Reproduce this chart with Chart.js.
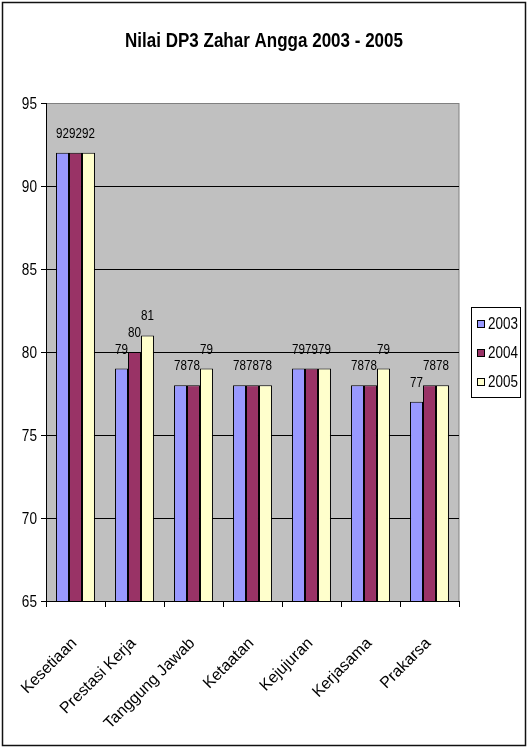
<!DOCTYPE html>
<html>
<head>
<meta charset="utf-8">
<script src="https://cdn.jsdelivr.net/npm/chart.js@4/dist/chart.umd.min.js"></script>
<style>
  html, body { margin: 0; padding: 0; background: #ffffff; }
  #wrap { width: 528px; height: 748px; position: relative; }
</style>
</head>
<body>
<div id="wrap"><canvas id="c" width="528" height="748"></canvas></div>
<script>
// Aspek penilaian DP3
const categories = ['Kesetiaan', 'Prestasi Kerja', 'Tanggung Jawab', 'Ketaatan', 'Kejujuran', 'Kerjasama', 'Prakarsa'];
const seriesNames = ['2003', '2004', '2005'];
const values2003 = [92, 79, 78, 78, 79, 78, 77];
const values2004 = [92, 80, 78, 78, 79, 78, 78];
const values2005 = [92, 81, 79, 78, 79, 79, 78];
const yTicks = [65, 70, 75, 80, 85, 90, 95];
const titleText = 'Nilai DP3 Zahar Angga 2003 - 2005';

const colors = ['#9999FF', '#993366', '#FFFFCC'];
const SANS = '"Liberation Sans", Arial, sans-serif';

// draws horizontally condensed text (narrow face look)
function narrowText(ctx, text, x, y, squeeze, align) {
  ctx.save();
  ctx.translate(x, y);
  ctx.scale(squeeze, 1);
  ctx.textAlign = align;
  ctx.fillText(text, 0, 0);
  ctx.restore();
}

// background of the plot area, outer frame, title
const frame = {
  id: 'frame',
  beforeDraw(chart) {
    const { ctx, chartArea: a } = chart;
    ctx.save();
    ctx.fillStyle = '#ffffff';
    ctx.fillRect(0, 0, chart.width, chart.height);
    ctx.fillStyle = '#C0C0C0';
    ctx.fillRect(a.left, a.top, a.right - a.left, a.bottom - a.top);
    ctx.strokeStyle = '#808080';
    ctx.lineWidth = 1;
    ctx.strokeRect(a.left + 0.5, a.top + 0.5, a.right - a.left - 0.5, a.bottom - a.top);
    ctx.restore();
  },
  afterDraw(chart) {
    const { ctx } = chart;
    ctx.save();
    ctx.strokeStyle = '#111111';
    ctx.lineWidth = 1.5;
    ctx.strokeRect(2.5, 2.5, chart.width - 5, chart.height - 5);
    ctx.fillStyle = '#000000';
    ctx.font = 'bold 21px ' + SANS;
    ctx.textBaseline = 'alphabetic';
    narrowText(ctx, titleText, chart.width / 2, 47, 0.81, 'center');
    ctx.restore();
  }
};

// axis labels: condensed numbers on y, 45-degree category names on x
const axisLabels = {
  id: 'axisLabels',
  afterDraw(chart) {
    const { ctx } = chart;
    const xs = chart.scales.x, ys = chart.scales.y;
    ctx.save();
    ctx.fillStyle = '#000000';
    ctx.font = '17px ' + SANS;
    ctx.textBaseline = 'middle';
    ys.ticks.forEach(t => {
      narrowText(ctx, String(t.value), xs.left - 9, ys.getPixelForValue(t.value) + 1, 0.8, 'right');
    });
    ctx.font = '16px ' + SANS;
    ctx.textBaseline = 'alphabetic';
    ctx.textAlign = 'right';
    chart.data.labels.forEach((lab, i) => {
      const x = xs.getPixelForTick(i) + 2;
      const y = ys.bottom + 43;
      ctx.save();
      ctx.translate(x, y);
      ctx.rotate(-Math.PI / 4);
      ctx.fillText(lab, 0, 0);
      ctx.restore();
    });
    ctx.restore();
  }
};

// value labels above each bar
const valueLabels = {
  id: 'valueLabels',
  afterDatasetsDraw(chart) {
    const { ctx } = chart;
    ctx.save();
    ctx.fillStyle = '#000000';
    ctx.font = '14px ' + SANS;
    ctx.textBaseline = 'alphabetic';
    chart.data.datasets.forEach((ds, i) => {
      const meta = chart.getDatasetMeta(i);
      meta.data.forEach((bar, j) => {
        narrowText(ctx, String(ds.data[j]), bar.x, bar.y - 15, 0.83, 'center');
      });
    });
    ctx.restore();
  }
};

// boxed legend to the right of the plot area
const boxLegend = {
  id: 'boxLegend',
  afterDraw(chart) {
    const { ctx, chartArea: a } = chart;
    const left = a.right + 12, w = 49, rowH = 29;
    const h = rowH * chart.data.datasets.length + 3;
    const top = Math.round((a.top + a.bottom) / 2 - h / 2) + 0.5;
    ctx.save();
    ctx.fillStyle = '#ffffff';
    ctx.fillRect(left, top, w, h);
    ctx.strokeStyle = '#000000';
    ctx.lineWidth = 1;
    ctx.strokeRect(left + 0.5, top, w, h);
    ctx.font = '16px ' + SANS;
    ctx.textBaseline = 'middle';
    chart.data.datasets.forEach((ds, i) => {
      const cy = top + 16 + i * rowH;
      ctx.fillStyle = ds.backgroundColor;
      ctx.fillRect(left + 6, Math.round(cy - 4), 8, 8);
      ctx.strokeStyle = '#000000';
      ctx.strokeRect(left + 6.5, Math.round(cy - 4) + 0.5, 7, 7);
      ctx.fillStyle = '#000000';
      narrowText(ctx, ds.label, left + 17, cy + 1, 0.84, 'left');
    });
    ctx.restore();
  }
};

const datasets = [values2003, values2004, values2005].map((vals, i) => ({
  label: seriesNames[i],
  data: vals,
  backgroundColor: colors[i],
  borderColor: '#000000',
  borderWidth: 1,
  categoryPercentage: 0.66,
  barPercentage: 1.0
}));

new Chart(document.getElementById('c'), {
  type: 'bar',
  data: { labels: categories, datasets },
  options: {
    responsive: false,
    animation: false,
    devicePixelRatio: 1,
    layout: { padding: { top: 103, right: 69, left: 0, bottom: 0 } },
    plugins: {
      legend: { display: false },
      title: { display: false },
      tooltip: { enabled: false }
    },
    scales: {
      x: {
        grid: {
          offset: true,
          drawOnChartArea: false,
          drawTicks: true,
          tickLength: 6,
          tickColor: '#000000'
        },
        border: { color: '#000000', width: 1 },
        ticks: { display: false, autoSkip: false },
        afterFit(scale) { scale.height = 147; }
      },
      y: {
        min: 65,
        max: 95,
        afterBuildTicks(scale) { scale.ticks = yTicks.map(v => ({ value: v })); },
        grid: {
          color: ctx => (ctx.tick && (ctx.tick.value === 95 || ctx.tick.value === 65)) ? 'rgba(0,0,0,0)' : '#000000',
          tickColor: '#000000',
          tickLength: 5,
          lineWidth: 1
        },
        border: { color: '#000000', width: 1 },
        ticks: { display: false },
        afterFit(scale) { scale.width = 46; }
      }
    }
  },
  plugins: [frame, valueLabels, axisLabels, boxLegend]
});
</script>
</body>
</html>
